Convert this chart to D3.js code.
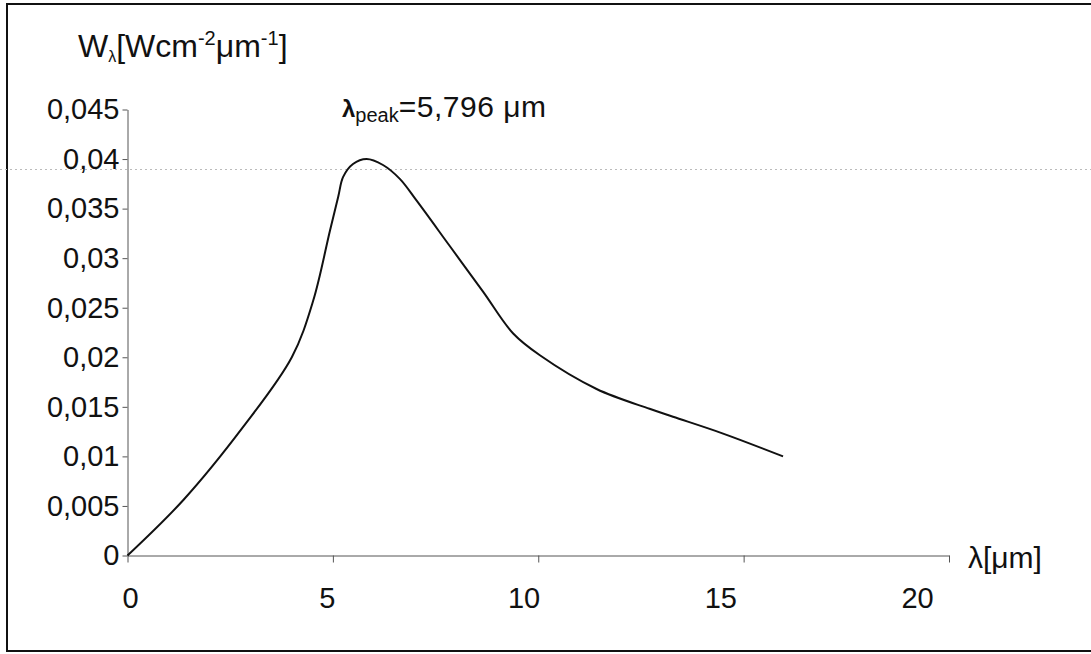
<!DOCTYPE html>
<html>
<head>
<meta charset="utf-8">
<script src="https://cdn.jsdelivr.net/npm/d3@7"></script>
<style>
  html, body { margin: 0; padding: 0; background: #fff; }
  svg { display: block; font-family: "Liberation Sans", Arial, sans-serif; }
</style>
</head>
<body>
<svg id="chart" width="1091" height="654"></svg>
<script>
// ---- data ----
const wavelength = [0, 1.36, 2.82, 4.0, 4.52, 4.93, 5.13, 5.25, 5.49, 5.82, 6.22, 6.63, 7.04, 7.85, 8.66, 9.39, 10.04, 11.42, 12.71, 13.28, 14.5, 15.96];
const radiance   = [0, 0.0056, 0.0130, 0.0200, 0.0257, 0.0328, 0.0362, 0.0382, 0.0395, 0.0400, 0.0394, 0.0380, 0.0358, 0.0312, 0.0266, 0.0224, 0.0202, 0.0168, 0.0148, 0.0140, 0.0123, 0.0100];
const xTicks = [0, 5, 10, 15, 20];
const xTickLabels = ["0", "5", "10", "15", "20"];
const yTicks = [0, 0.005, 0.01, 0.015, 0.02, 0.025, 0.03, 0.035, 0.04, 0.045];
const yTickLabels = ["0", "0,005", "0,01", "0,015", "0,02", "0,025", "0,03", "0,035", "0,04", "0,045"];
const peakLabel = "=5,796 μm";

const svg = d3.select("#chart");

// frame
svg.append("rect").attr("x", 7).attr("y", 4).attr("width", 1100).attr("height", 647)
  .attr("fill", "none").attr("stroke", "#111").attr("stroke-width", 2);

// faint scan line
svg.append("line").attr("x1", 0).attr("x2", 1091).attr("y1", 169.5).attr("y2", 169.5)
  .attr("stroke", "#bbb").attr("stroke-width", 1).attr("stroke-dasharray", "2,3");

const x = d3.scaleLinear().domain([0, 20]).range([127.5, 949]);
const xLabelPos = d3.scaleLinear().domain([0, 20]).range([130, 917]);
const y = d3.scaleLinear().domain([0, 0.045]).range([555.5, 109.5]);

// y axis
const yAxis = svg.append("g").attr("transform", "translate(127.5,0)")
  .call(d3.axisLeft(y).tickValues(yTicks).tickFormat((d, i) => yTickLabels[i]).tickSize(5).tickPadding(3).tickSizeOuter(0));
yAxis.attr("font-family", null);
yAxis.select(".domain").attr("stroke", "#555");
yAxis.selectAll(".tick line").attr("stroke", "#555");
yAxis.selectAll("text").attr("font-size", 29).attr("fill", "#111");

// x axis
const xAxis = svg.append("g").attr("transform", "translate(0,555.5)")
  .call(d3.axisBottom(x).tickValues(xTicks).tickFormat((d, i) => xTickLabels[i]).tickSize(7).tickSizeOuter(0));
xAxis.attr("font-family", null);
xAxis.select(".domain").attr("stroke", "#555");
xAxis.selectAll(".tick line").attr("stroke", "#555");
xAxis.selectAll(".tick text")
  .attr("font-size", 29).attr("fill", "#111")
  .attr("y", 0).attr("dy", null)
  .attr("transform", (d) => `translate(${xLabelPos(d) - x(d)},52)`);

// curve
const line = d3.line()
  .x((d, i) => x(wavelength[i]))
  .y((d, i) => y(radiance[i]))
  .curve(d3.curveCatmullRom.alpha(0.5));
svg.append("path").datum(radiance).attr("d", line)
  .attr("fill", "none").attr("stroke", "#111").attr("stroke-width", 2);

// y axis title
const yt = svg.append("text").attr("x", 78).attr("y", 57).attr("font-size", 32).attr("fill", "#111");
yt.append("tspan").text("W");
yt.append("tspan").attr("font-size", 16).attr("dy", 5).text("λ");
yt.append("tspan").attr("dy", -5).text("[Wcm");
yt.append("tspan").attr("font-size", 20).attr("dy", -12).text("-2");
yt.append("tspan").attr("dy", 12).text("μm");
yt.append("tspan").attr("font-size", 20).attr("dy", -12).text("-1");
yt.append("tspan").attr("dy", 12).text("]");

// peak label
const pl = svg.append("text").attr("x", 342).attr("y", 117).attr("font-size", 30).attr("fill", "#111");
pl.append("tspan").attr("font-weight", "bold").attr("font-size", 24).text("λ");
pl.append("tspan").attr("font-size", 20).attr("dy", 5).text("peak");
pl.append("tspan").attr("dy", -5).attr("letter-spacing", 0.5).text(peakLabel);

// x axis title
svg.append("text").attr("x", 968).attr("y", 568).attr("font-size", 30).attr("fill", "#111").text("λ[μm]");
</script>
</body>
</html>
